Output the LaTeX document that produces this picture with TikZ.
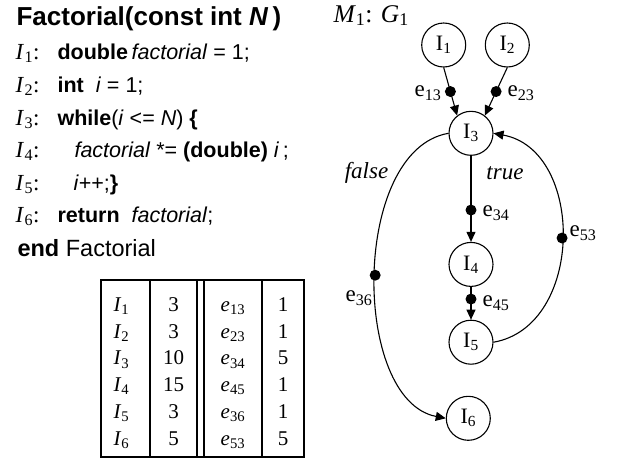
\documentclass[tikz,border=0pt]{standalone}
\usepackage{fontspec}
\setmainfont{Liberation Sans}
\newfontfamily\tms{Liberation Serif}
\usetikzlibrary{arrows.meta,positioning}
\newcommand{\Iv}[1]{{\tms\textit{I}\kern0.5pt\textsubscript{#1}:}}
\newcommand{\In}[1]{{\tms I\textsubscript{#1}}}
\newcommand{\Ed}[1]{{\tms e\textsubscript{#1}}}

\begin{document}
\begin{tikzpicture}[
  x=1pt, y=-1pt,
  line width=1.1pt,
  code/.style={anchor=base west, inner sep=0pt, font=\fontsize{21.5}{25}\selectfont},
  ilbl/.style={anchor=base west, inner sep=0pt, font=\fontsize{23}{27}\selectfont},
  cell/.style={anchor=base, inner sep=0pt, font=\fontsize{21}{25}\selectfont\tms},
  stmt/.style={circle, draw, minimum size=44pt, inner sep=0pt, font=\fontsize{22}{26}\selectfont},
  edot/.style={circle, fill=black, minimum size=11pt, inner sep=0pt},
  elbl/.style={inner sep=0pt, font=\fontsize{23}{27}\selectfont},
  arrow/.style={-{Triangle[length=10pt,width=9pt]}},
]
  \useasboundingbox (0,0) rectangle (622,459);

  % program text
  \node[code, font=\fontsize{26}{30}\selectfont\bfseries] (title) at (16,25)
    {Factorial(const int \textit{N}\,)};
  \node[ilbl] (l1) at (15,59) {\Iv{1}};
  \node[code] (c1) at (57,59) {\textbf{double}\,\textit{factorial} = 1;};
  \node[ilbl] (l2) at (15,92) {\Iv{2}};
  \node[code] (c2) at (57,92) {\textbf{int}\ \ \textit{i} = 1;};
  \node[ilbl] (l3) at (15,125) {\Iv{3}};
  \node[code] (c3) at (57,125) {\textbf{while}(\textit{i} <= \textit{N}) \textbf{\{}};
  \node[ilbl] (l4) at (15,157) {\Iv{4}};
  \node[code] (c4) at (74,157) {\textit{factorial} *= \textbf{(double)} \textit{i}\,;};
  \node[ilbl] (l5) at (15,190) {\Iv{5}};
  \node[code] (c5) at (73,190) {\textit{i}++;\textbf{\}}};
  \node[ilbl] (l6) at (15,222) {\Iv{6}};
  \node[code] (c6) at (57,222) {\textbf{return}\ \ \textit{factorial};};
  \node[code, font=\fontsize{23.5}{28}\selectfont] (cend) at (17,256) {\textbf{end} Factorial};

  % weight table
  \draw (101,280) rectangle (304,457);
  \draw (150,280) -- (150,457);
  \draw (197,280) -- (197,457);
  \draw (204,280) -- (204,457);
  \draw (262,280) -- (262,457);
  \foreach \k/\n/\e/\w [count=\r from 0] in
      {1/3/13/1, 2/3/23/1, 3/10/34/5, 4/15/45/1, 5/3/36/1, 6/5/53/5} {
    \node[cell, anchor=base west] (ti\k) at (113,311.5+26.7*\r) {\textit{I}\textsubscript{\k}};
    \node[cell] (tn\k) at (173.5,311.5+26.7*\r) {\n};
    \node[cell] (te\k) at (233,311.5+26.7*\r) {\textit{e}\textsubscript{\e}};
    \node[cell] (tw\k) at (283,311.5+26.7*\r) {\w};
  }

  % graph M1
  \node[ilbl, font=\fontsize{25.5}{30}\selectfont\tms] (gname) at (333,22)
    {\textit{M}\textsubscript{1}: \textit{G}\textsubscript{1}};
  \node[stmt] (I1) at (443.7,45) {\In{1}};
  \node[stmt] (I2) at (507.3,45) {\In{2}};
  \node[stmt] (I3) at (471,133.3) {\In{3}};
  \node[stmt, below=86pt of I3] (I4) {\In{4}};
  \node[stmt, below=32.7pt of I4] (I5) {\In{5}};
  \node[stmt] (I6) at (468.3,418.3) {\In{6}};

  \draw[arrow] (I1.south) -- node[edot, pos=0.5] (d13) {} (I3.128);
  \draw[arrow] (I2.south) -- node[edot, pos=0.5] (d23) {} (I3.52);
  \draw[arrow] (I3) -- node[edot, pos=0.63] (d34) {} (I4);
  \draw[arrow] (I4) -- node[edot, pos=0.37] (d45) {} (I5);
  \draw[arrow] (I3.west) .. controls +(-97.2,16.7) and +(-94.6,-18.3) ..
    node[edot, pos=0.5] (d36) {} (I6.west);
  \draw[arrow] (I5.east) .. controls +(91.2,-16) and +(91.5,16.7) ..
    node[edot, pos=0.5] (d53) {} (I3.east);

  \node[elbl, anchor=east] at (442,93) {\Ed{13}};
  \node[elbl, anchor=west] at (507,93) {\Ed{23}};
  \node[elbl, anchor=west] at (482,213) {\Ed{34}};
  \node[elbl, anchor=west] at (482,303) {\Ed{45}};
  \node[elbl, anchor=west] at (569,233) {\Ed{53}};
  \node[elbl, anchor=east] at (373,298) {\Ed{36}};
  \node[elbl, font=\fontsize{23}{27}\selectfont\tms\itshape] (fl) at (366.5,173) {false};
  \node[elbl, font=\fontsize{23}{27}\selectfont\tms\itshape] (tr) at (505,173) {true};
\end{tikzpicture}
\end{document}
